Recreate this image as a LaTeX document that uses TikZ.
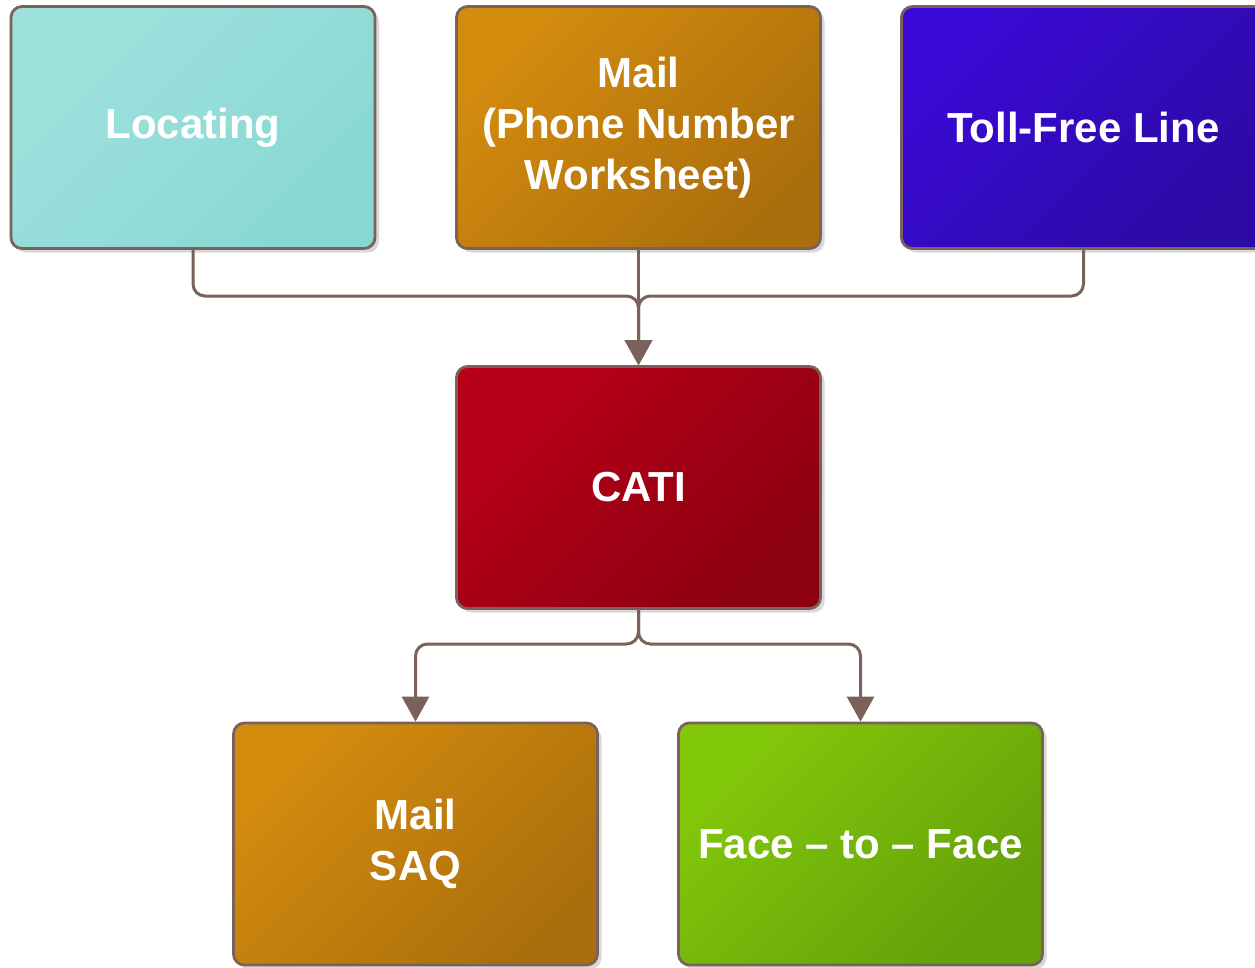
\documentclass[tikz,border=0pt]{standalone}
\usepackage{fontspec}
\setmainfont{Liberation Sans}
\usetikzlibrary{arrows.meta,shadows}
\definecolor{edgec}{HTML}{7A625B}
\definecolor{tealA}{HTML}{9FE1DD}
\definecolor{tealB}{HTML}{89D8D3}
\definecolor{orA}{HTML}{D48C0E}
\definecolor{orB}{HTML}{AA6E0C}
\definecolor{blA}{HTML}{3A0AD6}
\definecolor{blB}{HTML}{2C0AA4}
\definecolor{rdA}{HTML}{B80019}
\definecolor{rdB}{HTML}{8C000F}
\definecolor{grA}{HTML}{82C80A}
\definecolor{grB}{HTML}{64A00A}
\tikzset{
  box/.style={draw=edgec, line width=2.8pt, rounded corners=11pt,
    minimum width=364pt, minimum height=242pt, align=center,
    text=white, font=\fontsize{42}{51}\selectfont\bfseries, inner sep=0pt,
    drop shadow={shadow xshift=4pt, shadow yshift=-4pt, opacity=0.25, fill=black!60}},
  grad/.style 2 args={top color=#1, bottom color=#2, shading angle=45},
  conn/.style={draw=edgec, line width=3pt, rounded corners=12pt},
  arr/.style={conn, -{Triangle[width=27pt,length=25pt]}}
}
\begin{document}
\begin{tikzpicture}[x=1pt,y=-1pt]
\useasboundingbox (0,0) rectangle (1255,967);
\node[box, grad={tealA}{tealB}] (loc) at (193,127.5) {Locating};
\node[box, grad={orA}{orB}] (mail) at (638.5,127.5) {Mail\\(Phone Number\\Worksheet)};
\node[box, grad={blA}{blB}] (toll) at (1083.5,127.5) {Toll-Free Line};
\node[box, grad={rdA}{rdB}] (cati) at (638.5,487.5) {CATI};
\node[box, grad={orA}{orB}] (saq) at (415.5,844) {Mail\\SAQ};
\node[box, grad={grA}{grB}] (f2f) at (860.5,844) {Face -- to -- Face};
\coordinate (j1) at (638.5,296);
\coordinate (j2) at (638.5,644);
\draw[arr] (loc.south) -- (loc.south |- j1) -- (j1) -- (cati.north);
\draw[arr] (toll.south) -- (toll.south |- j1) -- (j1) -- (cati.north);
\draw[arr] (mail.south) -- (cati.north);
\draw[arr] (cati.south) -- (j2) -- (saq.north |- j2) -- (saq.north);
\draw[arr] (cati.south) -- (j2) -- (f2f.north |- j2) -- (f2f.north);
\end{tikzpicture}
\end{document}
